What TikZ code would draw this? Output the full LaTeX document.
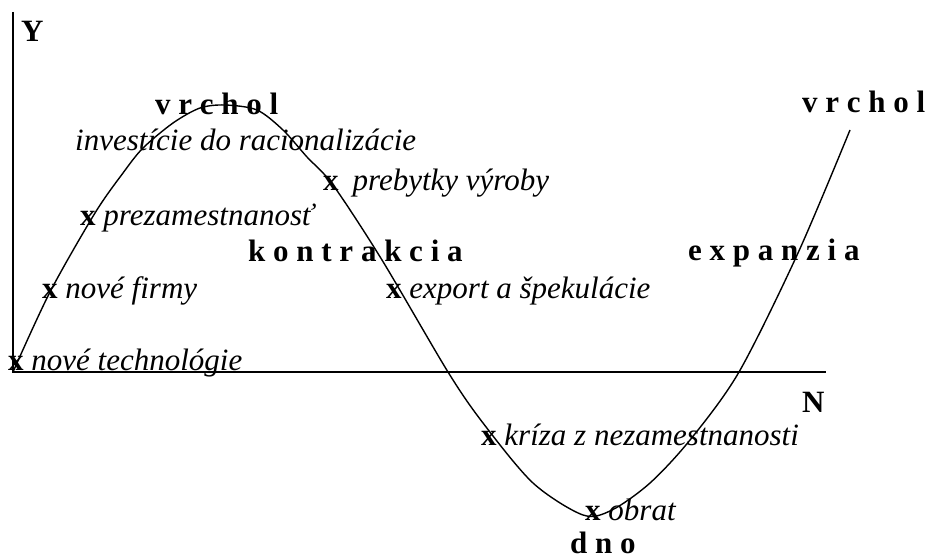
\documentclass[tikz,border=0pt]{standalone}
\usepackage{fontspec}
\setmainfont{Liberation Serif}
\newcommand{\mk}{{\bfseries\upshape x}}
\begin{document}
\begin{tikzpicture}[x=1pt,y=-1pt,
  lbl/.style={anchor=base west, inner sep=0pt, font=\fontsize{31}{37}\selectfont\itshape},
  bld/.style={anchor=base west, inner sep=0pt, font=\fontsize{31}{37}\selectfont\bfseries},
  axisline/.style={line width=1.5pt},
  curveline/.style={line width=1.4pt}]
\useasboundingbox (0,0) rectangle (931,559);
\coordinate (Ytop) at (13,12);
\coordinate (O) at (13,372);
\coordinate (Xend) at (826,372);
\draw[axisline] (Ytop) -- (O) -- (Xend);
\draw[curveline] plot[smooth, tension=0.5] coordinates {
  (13,372) (50,292) (95,213) (123,173) (143,148) (173,123) (200,108)
  (225,105) (257,110) (283,130) (307,157) (333,185) (382,260)
  (448,372) (483,423) (533,483) (583,515) (612,510) (650,483)
  (690,440) (739,372) (798,253) (850,130)};
\node[bld] (ylab) at (21,42) {Y};
\node[bld] (vrchol1) at (155,114) {v r c h o l};
\node[lbl] (invest) at (75,150) {investície do racionalizácie};
\node[lbl] (prebytky) at (323,190) {\mk\hspace{0.45em}prebytky výroby};
\node[lbl] (prezam) at (80,225) {\mk\ prezamestnanosť};
\node[bld] (kontr) at (248,261) {k o n t r a k c i a};
\node[bld] (expan) at (688,260) {e x p a n z i a};
\node[lbl] (firmy) at (42,298) {\mk\ nové firmy};
\node[lbl] (export) at (386,298) {\mk\ export a špekulácie};
\node[lbl] (techn) at (8,370) {\mk\ nové technológie};
\node[bld] (nlab) at (802,412) {N};
\node[lbl] (kriza) at (481,445) {\mk\ kríza z nezamestnanosti};
\node[lbl] (obrat) at (585,520) {\mk\ obrat};
\node[bld] (dno) at (570,553) {d n o};
\node[bld] (vrchol2) at (802,113) {v r c h o l};
\end{tikzpicture}
\end{document}
